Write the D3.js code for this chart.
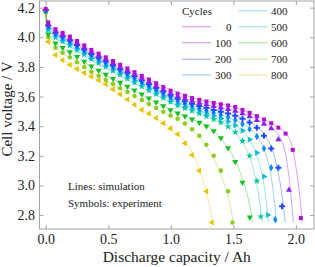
<!DOCTYPE html>
<html>
<head>
<meta charset="utf-8">
<script src="https://cdn.jsdelivr.net/npm/d3@7"></script>
<style>
  body { margin: 0; background: #fff; }
  svg text { font-family: "Liberation Serif", "DejaVu Serif", serif; fill: #222; }
</style>
</head>
<body>
<svg id="chart" width="315" height="267"></svg>
<script>
// Courbes de décharge : simulation (lignes) et expérience (symboles)

const cycles = [0, 100, 200, 300, 400, 500, 600, 700, 800];
const colors = ["#b010d0", "#8a1ef0", "#1f4cff", "#0a8cff", "#00bcd8", "#00c89a", "#14c01e", "#8ccc1c", "#e6c400"];

const xTicks = [0, 0.5, 1.0, 1.5, 2.0];
const yTicks = [2.8, 3.0, 3.2, 3.4, 3.6, 3.8, 4.0, 4.2];

// Simulation : [capacité Ah, tension V]
const sim0 = [[0,4.18],[0.005,4.14],[0.015,4.11],[0.03,4.085],[0.06,4.06],[0.1,4.04],[0.2,3.995],[0.35,3.92],[0.5,3.85],[0.75,3.745],[1.0,3.645],[1.25,3.575],[1.5,3.53],[1.7,3.465],[1.85,3.395],[1.93,3.34],[1.98,3.23],[2.01,3.07],[2.035,2.9],[2.05,2.75]];
const sim100 = [[0,4.18],[0.005,4.135],[0.015,4.10],[0.03,4.075],[0.06,4.05],[0.1,4.025],[0.2,3.98],[0.35,3.905],[0.5,3.835],[0.75,3.728],[1.0,3.625],[1.25,3.553],[1.5,3.508],[1.7,3.44],[1.8,3.39],[1.87,3.33],[1.92,3.2],[1.95,3.02],[1.98,2.75]];
const sim200 = [[0,4.18],[0.005,4.13],[0.015,4.09],[0.03,4.065],[0.06,4.04],[0.1,4.015],[0.2,3.97],[0.35,3.893],[0.5,3.823],[0.75,3.713],[1.0,3.607],[1.25,3.533],[1.5,3.475],[1.65,3.42],[1.75,3.34],[1.82,3.22],[1.86,3.08],[1.89,2.93],[1.915,2.75]];
const sim300 = [[0,4.18],[0.005,4.125],[0.015,4.08],[0.03,4.055],[0.06,4.03],[0.1,4.0],[0.2,3.958],[0.35,3.88],[0.5,3.81],[0.75,3.7],[1.0,3.593],[1.25,3.515],[1.5,3.445],[1.62,3.39],[1.7,3.32],[1.76,3.21],[1.8,3.07],[1.825,2.92],[1.845,2.75]];
const sim400 = [[0,4.18],[0.005,4.12],[0.015,4.07],[0.03,4.045],[0.06,4.02],[0.1,3.99],[0.2,3.946],[0.35,3.866],[0.5,3.797],[0.75,3.685],[1.0,3.578],[1.25,3.497],[1.45,3.43],[1.58,3.36],[1.66,3.26],[1.72,3.11],[1.755,2.95],[1.78,2.75]];
const sim500 = [[0,4.18],[0.005,4.115],[0.015,4.06],[0.03,4.035],[0.06,4.01],[0.1,3.98],[0.2,3.935],[0.35,3.853],[0.5,3.783],[0.75,3.671],[1.0,3.563],[1.25,3.48],[1.4,3.43],[1.52,3.35],[1.6,3.25],[1.66,3.11],[1.7,2.95],[1.73,2.75]];
const sim600 = [[0,4.18],[0.005,4.10],[0.015,4.04],[0.03,4.01],[0.06,3.98],[0.1,3.945],[0.2,3.895],[0.35,3.81],[0.5,3.735],[0.75,3.62],[1.0,3.51],[1.2,3.435],[1.34,3.37],[1.45,3.26],[1.53,3.14],[1.59,3.0],[1.63,2.87],[1.655,2.75]];
const sim700 = [[0,4.18],[0.005,4.09],[0.015,4.02],[0.03,3.985],[0.06,3.95],[0.1,3.91],[0.2,3.86],[0.35,3.775],[0.5,3.70],[0.75,3.58],[1.0,3.465],[1.15,3.39],[1.27,3.28],[1.35,3.17],[1.41,3.05],[1.46,2.92],[1.5,2.75]];
const sim800 = [[0,4.18],[0.005,4.08],[0.015,4.0],[0.03,3.955],[0.06,3.91],[0.1,3.875],[0.2,3.815],[0.35,3.745],[0.5,3.675],[0.75,3.525],[0.9,3.45],[1.05,3.35],[1.13,3.28],[1.2,3.17],[1.26,3.03],[1.3,2.9],[1.335,2.75]];

// Expérience : capacités communes des mesures, puis tensions par cycle
const expCap = [0, 0.02, 0.078, 0.135, 0.193, 0.25, 0.308, 0.365, 0.423, 0.48, 0.538, 0.595, 0.653, 0.71, 0.768, 0.825, 0.883, 0.94, 0.998, 1.055, 1.113, 1.17, 1.228, 1.285, 1.343, 1.4, 1.458, 1.515, 1.573, 1.63, 1.688, 1.745, 1.803, 1.86, 1.918, 1.975];
const exp0 = [4.19, 4.10, 4.055, 4.03, 4.005, 3.975, 3.945, 3.915, 3.89, 3.865, 3.84, 3.815, 3.79, 3.765, 3.74, 3.715, 3.69, 3.665, 3.64, 3.62, 3.605, 3.59, 3.578, 3.567, 3.557, 3.548, 3.54, 3.53, 3.51, 3.49, 3.468, 3.445, 3.42, 3.39, 3.35, 3.24];
const exp100 = [4.19, 4.09, 4.04, 4.015, 3.99, 3.96, 3.93, 3.90, 3.875, 3.85, 3.825, 3.80, 3.775, 3.75, 3.725, 3.70, 3.673, 3.648, 3.622, 3.60, 3.585, 3.57, 3.557, 3.546, 3.535, 3.525, 3.515, 3.503, 3.485, 3.465, 3.44, 3.415, 3.385, 3.31];
const exp200 = [4.185, 4.08, 4.03, 4.005, 3.978, 3.948, 3.918, 3.888, 3.862, 3.836, 3.81, 3.785, 3.76, 3.735, 3.708, 3.683, 3.657, 3.632, 3.607, 3.585, 3.568, 3.552, 3.537, 3.523, 3.51, 3.498, 3.485, 3.47, 3.45, 3.425, 3.39, 3.335, 3.25, 3.12];
const exp300 = [4.18, 4.07, 4.02, 3.993, 3.966, 3.936, 3.906, 3.876, 3.85, 3.824, 3.798, 3.772, 3.747, 3.721, 3.695, 3.669, 3.643, 3.618, 3.593, 3.57, 3.553, 3.537, 3.52, 3.505, 3.49, 3.476, 3.46, 3.44, 3.415, 3.38, 3.33, 3.25, 3.12];
const exp400 = [4.18, 4.06, 4.01, 3.982, 3.954, 3.924, 3.894, 3.864, 3.838, 3.812, 3.786, 3.76, 3.734, 3.708, 3.682, 3.656, 3.63, 3.604, 3.578, 3.555, 3.537, 3.52, 3.503, 3.487, 3.47, 3.452, 3.432, 3.405, 3.37, 3.31, 3.22, 3.06];
const exp500 = [4.18, 4.05, 4.0, 3.972, 3.944, 3.914, 3.883, 3.853, 3.826, 3.80, 3.773, 3.747, 3.72, 3.694, 3.668, 3.642, 3.616, 3.59, 3.563, 3.54, 3.521, 3.503, 3.485, 3.467, 3.447, 3.425, 3.397, 3.36, 3.30, 3.2, 3.03];
const exp600 = [4.175, 4.02, 3.96, 3.93, 3.90, 3.868, 3.836, 3.804, 3.776, 3.748, 3.72, 3.694, 3.668, 3.642, 3.615, 3.588, 3.562, 3.536, 3.51, 3.488, 3.467, 3.446, 3.424, 3.40, 3.368, 3.32, 3.252, 3.16, 3.02];
const exp700 = [4.17, 4.00, 3.93, 3.895, 3.865, 3.832, 3.80, 3.768, 3.74, 3.712, 3.684, 3.656, 3.63, 3.603, 3.576, 3.55, 3.523, 3.497, 3.472, 3.45, 3.418, 3.38, 3.335, 3.275, 3.20, 3.10, 2.96];
const exp800 = [4.17, 3.97, 3.88, 3.845, 3.815, 3.787, 3.76, 3.735, 3.71, 3.683, 3.65, 3.615, 3.58, 3.545, 3.51, 3.485, 3.455, 3.42, 3.385, 3.345, 3.285, 3.205, 3.10, 2.96];
// Dernier point mesuré de chaque cycle (fin de décharge)
const expLast = [[2.04, 2.78], [1.945, 2.97], [1.89, 2.86], [1.835, 2.77], [1.776, 2.80], [1.72, 2.79], [1.632, 2.785], [1.493, 2.75], [1.33, 2.75]];

const simData = [sim0, sim100, sim200, sim300, sim400, sim500, sim600, sim700, sim800];
const expData = [exp0, exp100, exp200, exp300, exp400, exp500, exp600, exp700, exp800];

// Symboles : [type, rotation]
const symbols = [
    [d3.symbolSquare, 0], [d3.symbolTriangle, 0], [d3.symbolCross, 0],
    [d3.symbolDiamond, 0], [d3.symbolTriangle, 90], [d3.symbolStar, 0],
    [d3.symbolTriangle, 180], [d3.symbolCircle, 0], [d3.symbolTriangle, 270]
];

const svg = d3.select("#chart");
const mLeft = 39.5, mRight = 314, mTop = 1, mBottom = 229;

const x = d3.scaleLinear().domain([-0.05, 2.145]).range([mLeft, mRight]);
const y = d3.scaleLinear().domain([2.706, 4.245]).range([mBottom, mTop]);

const g = svg.append("g");

// Lignes de simulation
const line = d3.line()
    .x(d => x(d[0]))
    .y(d => y(d[1]))
    .curve(d3.curveMonotoneX);

simData.forEach((s, i) => {
    g.append("path")
        .attr("d", line(s))
        .attr("fill", "none")
        .attr("stroke", colors[i])
        .attr("stroke-opacity", 0.4)
        .attr("stroke-width", 1);
});

// Symboles expérimentaux
for (let i = cycles.length - 1; i >= 0; i--) {
    const pts = expData[i].map((v, k) => [expCap[k], v]);
    pts.push(expLast[i]);
    const sym = d3.symbol().type(symbols[i][0]).size(symbols[i][0] === d3.symbolCross ? 20 : 16);
    g.append("g").selectAll("path")
        .data(pts)
        .enter()
        .append("path")
        .attr("d", sym)
        .attr("transform", d => `translate(${x(d[0])},${y(d[1])}) rotate(${symbols[i][1]})`)
        .attr("fill", colors[i]);
}

// Cadre et graduations vers l'intérieur
const frameColor = "#a3a3a3";
function styleAxis(a) {
    a.select(".domain").remove();
    a.selectAll("line").attr("stroke", frameColor);
    a.selectAll("text").attr("font-size", "14px").attr("fill", "#222")
        .attr("font-family", "Liberation Serif, serif");
}
svg.append("g").attr("transform", `translate(0,${mBottom})`)
    .call(d3.axisBottom(x).tickValues(xTicks).tickFormat(d3.format(".1f")).tickSizeInner(-4).tickSizeOuter(0).tickPadding(5))
    .call(styleAxis);
svg.append("g").attr("transform", `translate(0,${mTop})`)
    .call(d3.axisTop(x).tickValues(xTicks).tickFormat("").tickSizeInner(-4).tickSizeOuter(0))
    .call(styleAxis);
svg.append("g").attr("transform", `translate(${mLeft},0)`)
    .call(d3.axisLeft(y).tickValues(yTicks).tickFormat(d3.format(".1f")).tickSizeInner(-4).tickSizeOuter(0).tickPadding(4.5))
    .call(styleAxis);
svg.append("g").attr("transform", `translate(${mRight},0)`)
    .call(d3.axisRight(y).tickValues(yTicks).tickFormat("").tickSizeInner(-4).tickSizeOuter(0))
    .call(styleAxis);

svg.append("rect")
    .attr("x", mLeft).attr("y", mTop)
    .attr("width", mRight - mLeft).attr("height", mBottom - mTop)
    .attr("fill", "none").attr("stroke", frameColor).attr("stroke-width", 1);

// Titres des axes
svg.append("text")
    .attr("x", (mLeft + mRight) / 2).attr("y", 262)
    .attr("text-anchor", "middle").attr("font-size", "15.5px")
    .text("Discharge capacity / Ah");
svg.append("text")
    .attr("transform", "translate(12,109) rotate(-90)")
    .attr("text-anchor", "middle").attr("font-size", "15px")
    .text("Cell voltage / V");

// Annotations
svg.append("text").attr("x", 68).attr("y", 190).attr("font-size", "11px").text("Lines: simulation");
svg.append("text").attr("x", 68).attr("y", 207).attr("font-size", "11px").text("Symbols: experiment");

// Légende
const legend = svg.append("g");
legend.append("text").attr("x", 182).attr("y", 14.5).attr("font-size", "11px").text("Cycles");
const rows = [26.7, 42.7, 59.3, 75, 10.7, 26.7, 42.7, 59.3, 75];
cycles.forEach((c, i) => {
    const col = i < 4 ? 0 : 1;
    const lx = col === 0 ? 182 : 238.5;
    const tx = col === 0 ? 231.5 : 287.5;
    legend.append("line")
        .attr("x1", lx).attr("x2", lx + 29)
        .attr("y1", rows[i]).attr("y2", rows[i])
        .attr("stroke", colors[i]).attr("stroke-opacity", 0.4).attr("stroke-width", 1.2);
    legend.append("text")
        .attr("x", tx).attr("y", rows[i] + 4)
        .attr("text-anchor", "end").attr("font-size", "11px")
        .text(c);
});
</script>
</body>
</html>
